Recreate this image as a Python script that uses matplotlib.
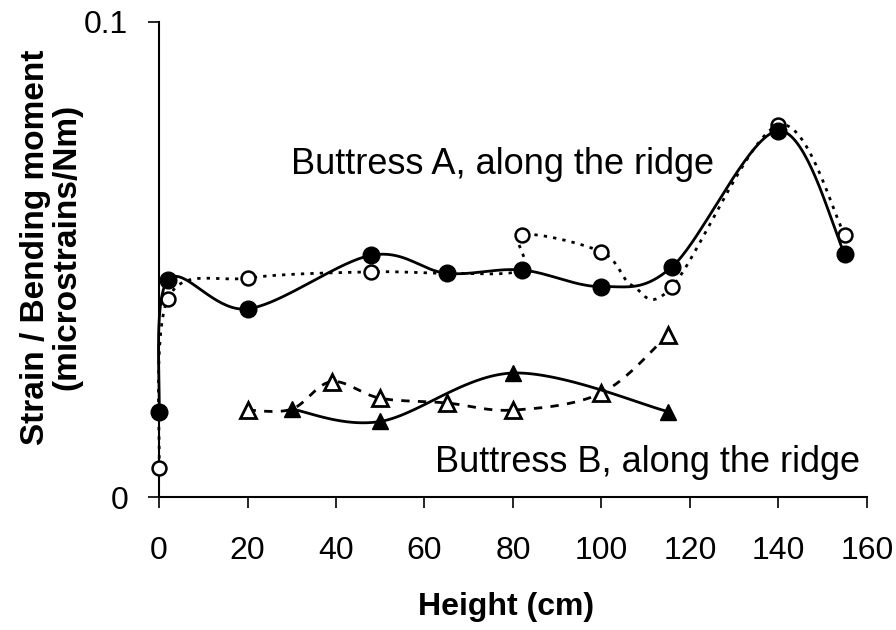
import numpy as np
import matplotlib
matplotlib.use("Agg")
import matplotlib.pyplot as plt

plt.rcParams['font.family'] = ['Liberation Sans', 'DejaVu Sans']

# Buttress A, filled circles (solid line)
a_fill_x = [0, 2, 20, 48, 65, 82, 100, 116, 140, 155]
a_fill_y = [0.0178, 0.0457, 0.0396, 0.0509, 0.0471, 0.0478, 0.0443, 0.0485, 0.0771, 0.0512]

# Buttress A, open circles (dotted line); some points sit under other markers
a_open_x = [0, 2, 20, 48, 65, 82, 82, 100, 107, 116, 140, 155]
a_open_y = [0.0061, 0.0417, 0.0461, 0.0474, 0.0471, 0.0478, 0.0552, 0.0516, 0.0445, 0.0443, 0.0783, 0.0552]
a_open_marked = [0, 1, 2, 3, 6, 7, 9, 10, 11]

# Buttress B, filled triangles (solid line)
b_fill_x = [30, 50, 80, 115]
b_fill_y = [0.0185, 0.0159, 0.0261, 0.0180]

# Buttress B, open triangles (dashed line)
b_open_x = [20, 30, 39, 50, 65, 80, 100, 115]
b_open_y = [0.0183, 0.0185, 0.0243, 0.0208, 0.0198, 0.0183, 0.0219, 0.0341]
b_open_marked = [0, 2, 3, 4, 5, 6, 7]

x_ticks = [0, 20, 40, 60, 80, 100, 120, 140, 160]


# Smoothed line like the spreadsheet one (Catmull-Rom as Bezier pieces)
def smooth(xs, ys, n=40):
    p = np.column_stack([xs, ys]).astype(float)
    m = len(p)
    t = np.linspace(0, 1, n)[:, None]
    out = []
    for i in range(m - 1):
        p0 = p[max(i - 1, 0)]
        p1 = p[i]
        p2 = p[i + 1]
        p3 = p[min(i + 2, m - 1)]
        c1 = p1 + (p2 - p0) / 6
        c2 = p2 - (p3 - p1) / 6
        seg = ((1 - t) ** 3) * p1 + 3 * ((1 - t) ** 2) * t * c1 + 3 * (1 - t) * t ** 2 * c2 + t ** 3 * p2
        out.append(seg if i == 0 else seg[1:])
    s = np.vstack(out)
    return s[:, 0], s[:, 1]


fig = plt.figure(figsize=(8.96, 6.30), dpi=100)
ax = fig.add_axes([0.1775, 0.2111, 0.7900, 0.7540])

# open circles
sx, sy = smooth(a_open_x, a_open_y)
ax.plot(sx, sy, color='black', lw=2, linestyle=(0, (1.2, 2.2)), zorder=2, clip_on=False)
ax.plot(np.array(a_open_x)[a_open_marked], np.array(a_open_y)[a_open_marked], 'o',
        ms=10, mfc='white', mec='black', mew=1.8, zorder=3, clip_on=False)

# filled circles
sx, sy = smooth(a_fill_x, a_fill_y)
ax.plot(sx, sy, color='black', lw=2, zorder=4, clip_on=False)
ax.plot(a_fill_x, a_fill_y, 'o', ms=12, color='black', zorder=5, clip_on=False)

# open triangles
sx, sy = smooth(b_open_x, b_open_y)
ax.plot(sx, sy, color='black', lw=2, linestyle=(0, (3, 3)), zorder=2)
ax.plot(np.array(b_open_x)[b_open_marked], np.array(b_open_y)[b_open_marked], '^',
        ms=11, mfc='white', mec='black', mew=2, zorder=3)

# filled triangles
sx, sy = smooth(b_fill_x, b_fill_y)
ax.plot(sx, sy, color='black', lw=2, zorder=4)
ax.plot(b_fill_x, b_fill_y, '^', ms=12, color='black', zorder=5)

ax.set_xlim(0, 160)
ax.set_ylim(0, 0.1)
ax.set_xticks(x_ticks)
ax.set_xticklabels([str(v) for v in x_ticks])
ax.set_yticks([0, 0.1])
ax.set_yticklabels(['0', '0.1'])

for s in ['top', 'right']:
    ax.spines[s].set_visible(False)
for s in ['left', 'bottom']:
    ax.spines[s].set_linewidth(1.5)

ax.tick_params(axis='x', direction='out', length=8, width=1.2, pad=20, labelsize=23)
ax.tick_params(axis='y', direction='out', length=8, width=1.2, pad=14, labelsize=23)

ax.set_xlabel('Height (cm)', fontsize=23, fontweight='bold')
ax.xaxis.set_label_coords(0.49, -0.232)
ax.xaxis.label.set_va('center')

ax.set_ylabel('Strain / Bending moment\n(microstrains/Nm)', fontsize=24, fontweight='bold',
              linespacing=1.0)
ax.yaxis.set_label_coords(-0.152, 0.526)
ax.yaxis.label.set_va('center')

ax.text(0.485, 0.70, 'Buttress A, along the ridge', transform=ax.transAxes,
        fontsize=26, ha='center', va='center')
ax.text(0.69, 0.073, 'Buttress B, along the ridge', transform=ax.transAxes,
        fontsize=26, ha='center', va='center')

fig.savefig('out.png', dpi=100)
